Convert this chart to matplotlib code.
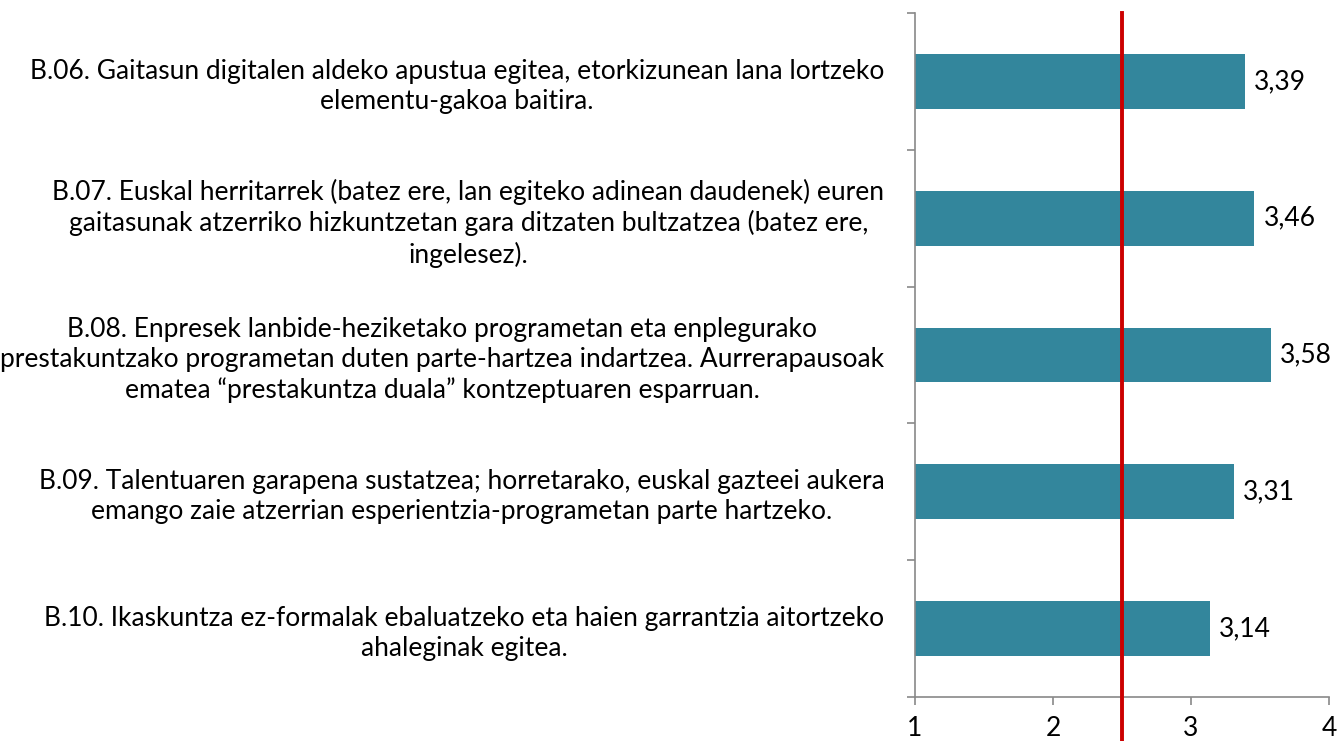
import matplotlib
matplotlib.use("Agg")
import matplotlib.pyplot as plt
import numpy as np

plt.rcParams['font.family'] = ['Lato', 'DejaVu Sans']

labels = [
    "B.06. Gaitasun digitalen aldeko apustua egitea, etorkizunean lana lortzeko\nelementu-gakoa baitira.",
    "B.07. Euskal herritarrek (batez ere, lan egiteko adinean daudenek) euren\ngaitasunak atzerriko hizkuntzetan gara ditzaten bultzatzea (batez ere,\ningelesez).",
    "B.08. Enpresek lanbide-heziketako programetan eta enplegurako\nprestakuntzako programetan duten parte-hartzea indartzea. Aurrerapausoak\nematea \u201cprestakuntza duala\u201d kontzeptuaren esparruan.",
    "B.09. Talentuaren garapena sustatzea; horretarako, euskal gazteei aukera\nemango zaie atzerrian esperientzia-programetan parte hartzeko.",
    "B.10. Ikaskuntza ez-formalak ebaluatzeko eta haien garrantzia aitortzeko\nahaleginak egitea.",
]
values = [3.39, 3.46, 3.58, 3.31, 3.14]
reference = 2.5
xticks = [1, 2, 3, 4]

bar_color = '#33869C'
axis_color = '#898989'
fs = 19

fig = plt.figure(figsize=(13.4, 7.41), dpi=100)
ax = fig.add_axes([0.6828, 0.0594, 0.9918 - 0.6828, 0.9825 - 0.0594])

y = np.arange(len(values))
ax.barh(y, np.array(values) - 1, left=1, height=0.4, color=bar_color)

for yi, v in zip(y, values):
    ax.text(v + 0.065, yi, f"{v:.2f}".replace('.', ','), va='center', ha='left',
            fontsize=fs, color='#000000')

ax.set_xlim(1, 4)
ax.set_ylim(len(values) - 0.5, -0.5)

ax.set_xticks(xticks)
ax.set_xticklabels([str(t) for t in xticks], fontsize=fs)
ax.set_yticks(y)
ax.set_yticklabels(labels, fontsize=fs, multialignment='center', linespacing=1.25)
ax.set_yticks(np.arange(-0.5, len(values)), minor=True)
ax.tick_params(axis='y', which='major', length=0, pad=22)
ax.tick_params(axis='y', which='minor', length=6, color=axis_color, width=1.2)
ax.tick_params(axis='x', length=6, color=axis_color, width=1.2, pad=8)

for side in ['top', 'right']:
    ax.spines[side].set_visible(False)
for side in ['left', 'bottom']:
    ax.spines[side].set_color(axis_color)
    ax.spines[side].set_linewidth(1.2)

ax.plot([reference, reference], [-0.5, 5.28], color='#CC0000', linewidth=2.8,
        clip_on=False, zorder=5)

fig.savefig('out.png', dpi=100)
